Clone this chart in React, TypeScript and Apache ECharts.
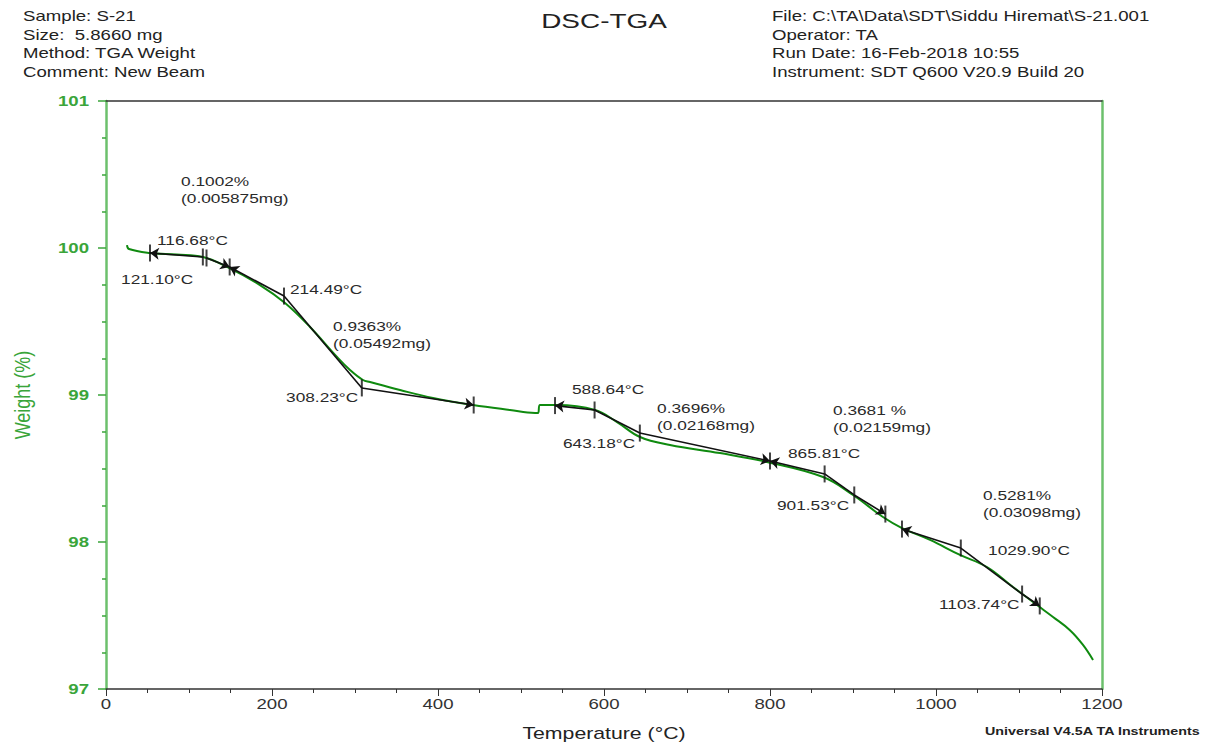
import React, { useEffect, useRef } from "react";
import * as echarts from "echarts";

// TGA curve (temperature °C, weight %)
const curveTemps = [25.3, 27.7, 53, 85, 116.9, 145.8, 185.5, 215.7, 245.8, 278.3, 294, 309.6, 318.1, 354.2, 394, 442.2, 486.7, 516.9, 520.5, 522.9, 543.4, 589.2, 615.7, 643.4, 679.5, 739.8, 796.4, 863.9, 900, 936.1, 959, 992.8, 1028.9, 1061.4, 1092.8, 1121.7, 1141, 1161.4, 1177.1, 1189.2];
const curveWeights = [100.02, 99.993, 99.966, 99.955, 99.939, 99.871, 99.748, 99.626, 99.463, 99.259, 99.17, 99.102, 99.088, 99.034, 98.98, 98.932, 98.898, 98.878, 98.878, 98.932, 98.932, 98.898, 98.816, 98.714, 98.66, 98.605, 98.544, 98.442, 98.32, 98.17, 98.095, 98.014, 97.912, 97.83, 97.694, 97.571, 97.49, 97.4, 97.3, 97.197];

// construction tick marks
const tickTemps = [53, 116.68, 121.1, 149, 214.49, 308.23, 443, 541, 588.64, 643.18, 800, 865.81, 901.53, 939, 959, 1029.9, 1103.74, 1125];
const tickWeights = [99.966, 99.939, 99.932, 99.871, 99.673, 99.048, 98.932, 98.928, 98.898, 98.741, 98.551, 98.463, 98.32, 98.19, 98.088, 97.959, 97.646, 97.565];

// segments as [fromTickIndex, toTickIndex]
const arrowSegments = [[1, 0], [2, 3], [4, 3], [5, 6], [8, 7], [9, 10], [11, 10], [12, 13], [15, 14], [16, 17]];
const plainSegments = [[4, 5], [8, 9], [11, 12], [15, 16]];

// annotations: text, temperature, weight (left-middle anchor)
const annotationTexts = ["0.1002%\n(0.005875mg)", "116.68°C", "121.10°C", "214.49°C", "0.9363%\n(0.05492mg)", "308.23°C", "588.64°C", "643.18°C", "0.3696%\n(0.02168mg)", "0.3681 %\n(0.02159mg)", "865.81°C", "901.53°C", "0.5281%\n(0.03098mg)", "1029.90°C", "1103.74°C"];
const annotationTemps = [90.4, 61.4, 18.1, 221.7, 273.5, 216.9, 561.4, 550.6, 663.9, 875.9, 821.7, 808.4, 1056.6, 1062.7, 1003.6];
const annotationWeights = [100.398, 100.054, 99.789, 99.721, 99.412, 98.986, 99.041, 98.673, 98.854, 98.837, 98.605, 98.252, 98.259, 97.946, 97.578];

// axis tick labels
const xTickValues = [0, 200, 400, 600, 800, 1000, 1200];
const xTickLabels = ["0", "200", "400", "600", "800", "1000", "1200"];
const yTickValues = [97, 98, 99, 100, 101];
const yTickLabels = ["97", "98", "99", "100", "101"];

const headerLeft = ["Sample: S-21", "Size:  5.8660 mg", "Method: TGA Weight", "Comment: New Beam"];
const headerRight = ["File: C:\\TA\\Data\\SDT\\Siddu Hiremat\\S-21.001", "Operator: TA", "Run Date: 16-Feb-2018 10:55", "Instrument: SDT Q600 V20.9 Build 20"];
const titleText = "DSC-TGA";
const xAxisTitle = "Temperature (°C)";
const yAxisTitle = "Weight (%)";
const footerText = "Universal V4.5A TA Instruments";

const FONT = "Liberation Sans, Arial, sans-serif";
const GREEN = "#0f8a0f";
const AXIS_GREEN = "#6cc06c";
const LABEL_GREEN = "#3aa53a";
const STRETCH = 1.33;

export default function App() {
  const ref = useRef<HTMLDivElement>(null);
  useEffect(() => {
    if (!ref.current) return;
    const chart = echarts.init(ref.current, undefined, { renderer: "svg" });
    const pt = (i: number) => [tickTemps[i], tickWeights[i]];

    chart.setOption({
      animation: false,
      backgroundColor: "#fff",
      textStyle: { fontFamily: FONT },
      grid: { left: 106, right: 108, top: 101, bottom: 55, containLabel: false },
      xAxis: [
        {
          type: "value", min: 0, max: 1200, interval: 200, position: "bottom",
          axisLine: { show: true, onZero: false, lineStyle: { color: "#333", width: 1.5 } },
          axisTick: { show: true, inside: false, length: 7, lineStyle: { color: "#333" } },
          minorTick: { show: true, splitNumber: 4, length: 4, lineStyle: { color: "#333" } },
          axisLabel: { show: false },
          splitLine: { show: false },
        },
        {
          type: "value", min: 0, max: 1200, position: "top",
          axisLine: { show: true, onZero: false, lineStyle: { color: "#333", width: 1.5 } },
          axisTick: { show: false }, axisLabel: { show: false }, splitLine: { show: false },
        },
      ],
      yAxis: [
        {
          type: "value", min: 97, max: 101, interval: 1, position: "left",
          axisLine: { show: true, onZero: false, lineStyle: { color: AXIS_GREEN, width: 2.5 } },
          axisTick: { show: true, inside: false, length: 8, lineStyle: { color: LABEL_GREEN, width: 1.5 } },
          minorTick: { show: true, splitNumber: 4, length: 4, lineStyle: { color: LABEL_GREEN, width: 1.5 } },
          axisLabel: { show: false },
          splitLine: { show: false },
        },
        {
          type: "value", min: 97, max: 101, position: "right",
          axisLine: { show: true, onZero: false, lineStyle: { color: AXIS_GREEN, width: 2.5 } },
          axisTick: { show: false }, axisLabel: { show: false }, splitLine: { show: false },
        },
      ],
      series: [
        {
          type: "line",
          data: curveTemps.map((t, i) => [t, curveWeights[i]]),
          showSymbol: false, smooth: 0.4,
          lineStyle: { color: GREEN, width: 2 },
          z: 2,
        },
        {
          type: "lines", coordinateSystem: "cartesian2d",
          data: plainSegments.map(([a, b]) => ({ coords: [pt(a), pt(b)] })),
          symbol: ["none", "none"],
          lineStyle: { color: "#111", width: 1.6, opacity: 1 },
          z: 3,
        },
        {
          type: "lines", coordinateSystem: "cartesian2d",
          data: arrowSegments.map(([a, b]) => ({ coords: [pt(a), pt(b)] })),
          symbol: ["none", "arrow"], symbolSize: 9,
          lineStyle: { color: "#111", width: 1.6, opacity: 1 },
          z: 3,
        },
        {
          type: "scatter",
          data: tickTemps.map((t, i) => [t, tickWeights[i]]),
          symbol: "rect", symbolSize: [2, 17],
          itemStyle: { color: "#111" },
          z: 4,
        },
      ],
    });

    const px = (t: number, w: number) => chart.convertToPixel({ gridIndex: 0 }, [t, w]) as number[];
    const txt = (text: string, x: number, y: number, font: string, fill: string, align: string, vAlign: string, extra: any = {}) => ({
      type: "text", x, y, scaleX: STRETCH, z: 100,
      style: { text, font, fill, align, verticalAlign: vAlign, lineHeight: 17 },
      ...extra,
    });

    const g: any[] = [];
    headerLeft.forEach((t, i) => g.push(txt(t, 23, 16 + i * 18.6, `14px ${FONT}`, "#222", "left", "middle")));
    headerRight.forEach((t, i) => g.push(txt(t, 772, 16 + i * 18.6, `14px ${FONT}`, "#222", "left", "middle")));
    g.push(txt(titleText, 604, 21, `21px ${FONT}`, "#222", "center", "middle"));
    g.push(txt(footerText, 985, 731, `bold 11px ${FONT}`, "#222", "left", "middle", { scaleX: 1.3 }));

    annotationTexts.forEach((t, i) => {
      const [x, y] = px(annotationTemps[i], annotationWeights[i]);
      g.push(txt(t, x, y, `13px ${FONT}`, "#2a2a2a", "left", "middle"));
    });
    xTickValues.forEach((v, i) => {
      const [x, y] = px(v, 97);
      g.push(txt(xTickLabels[i], x, y + 15, `14px ${FONT}`, "#333", "center", "middle"));
    });
    yTickValues.forEach((v, i) => {
      const [x, y] = px(0, v);
      g.push(txt(yTickLabels[i], x - 17, y, `bold 14px ${FONT}`, LABEL_GREEN, "right", "middle"));
    });
    const [cx] = px(600, 97);
    g.push(txt(xAxisTitle, cx, 733, `17px ${FONT}`, "#222", "center", "middle", { scaleX: 1.25 }));
    const [, cy] = px(0, 99);
    g.push({
      type: "text", x: 22, y: cy, rotation: Math.PI / 2, scaleY: 1.25, z: 100,
      style: { text: yAxisTitle, font: `18px ${FONT}`, fill: LABEL_GREEN, align: "center", verticalAlign: "middle" },
    });

    chart.setOption({ graphic: g });
    return () => chart.dispose();
  }, []);
  return <div ref={ref} style={{ width: 1210, height: 744, position: "absolute", left: 0, top: 0 }} />;
}
